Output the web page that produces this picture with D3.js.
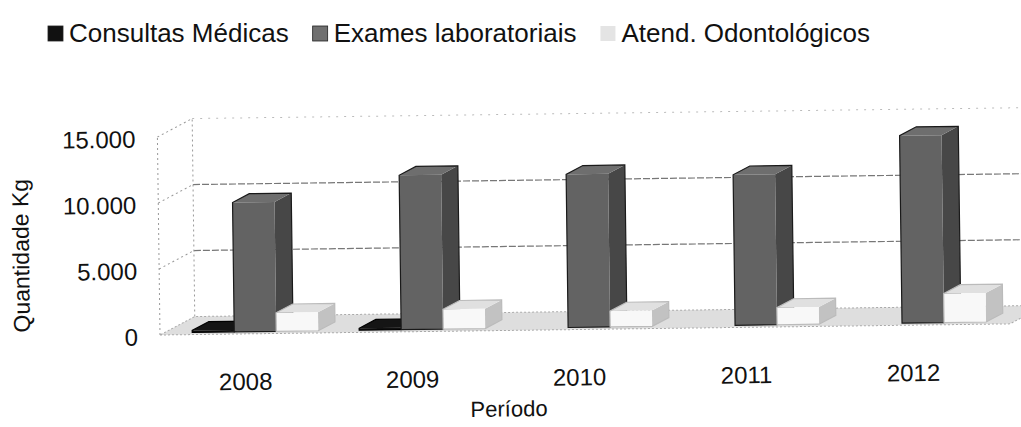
<!DOCTYPE html>
<html>
<head>
<meta charset="utf-8">
<script src="https://cdn.jsdelivr.net/npm/d3@7"></script>
<style>
    body { margin: 0; background: #fff; }
    text { font-family: "Liberation Sans", Arial, sans-serif; fill: #111; }
</style>
</head>
<body>
<div id="chart"></div>
<script>
var years = ["2008", "2009", "2010", "2011", "2012"];
var seriesNames = ["Consultas Médicas", "Exames laboratoriais", "Atend. Odontológicos"];
var consultas = [150, 150, 0, 0, 0];
var exames = [9800, 11700, 11600, 11400, 14200];
var odonto = [1400, 1500, 1200, 1300, 2200];
var yTicks = [0, 5000, 10000, 15000];
var yTickLabels = ["0", "5.000", "10.000", "15.000"];

var seriesValues = [consultas, exames, odonto];

var width = 1021;
var height = 427;

// face colours per series: front, top, side, outline
var faceColors = [
    { front: "#111", top: "#151515", side: "#0a0a0a", stroke: "#000" },
    { front: "#636363", top: "#6e6e6e", side: "#474747", stroke: "#1a1a1a" },
    { front: "#f8f8f8", top: "#e0e0e0", side: "#c2c2c2", stroke: "#bbb" }
];
var legendColors = ["#111", "#707070", "#e4e4e4"];

var svg = d3.select("#chart").append("svg")
    .attr("width", width)
    .attr("height", height);

svg.append("rect")
    .attr("width", width)
    .attr("height", height)
    .attr("fill", "#fff");

// 3D depth of the plot box
var DX = 35;
var DY = -18;
var xLeft = 160;
var xRight = 1010;
var yBase = 335;

var y = d3.scaleLinear()
    .domain([0, 15000])
    .range([yBase, yBase - 198]);

var x = d3.scaleBand()
    .domain(years)
    .range([xLeft, xRight])
    .paddingInner(0.245)
    .paddingOuter(0.168);

var xSeries = d3.scaleBand()
    .domain(seriesNames)
    .range([0, x.bandwidth()]);

function proj(px, value, z) {
    return [px + z * DX, y(value) + z * DY];
}

function poly(points) {
    return points.map(p => p.join(",")).join(" ");
}

// the scan is a little tilted
var chart = svg.append("g")
    .attr("transform", `rotate(-0.75, ${xLeft}, ${yBase})`);

// floor
chart.append("polygon")
    .attr("points", poly([proj(xLeft, 0, 0), proj(xRight, 0, 0), proj(xRight, 0, 1), proj(xLeft, 0, 1)]))
    .attr("fill", "#dedede")
    .attr("stroke", "#aaa")
    .attr("stroke-width", 1)
    .attr("stroke-dasharray", "2,2");

// back wall gridlines and left wall lines
yTicks.forEach(function(t) {
    if (t === 0) return;
    var top = t === 15000;
    var a = proj(xLeft, t, 1);
    var b = proj(xRight + 20, t, 1);
    chart.append("line")
        .attr("x1", a[0]).attr("y1", a[1])
        .attr("x2", b[0]).attr("y2", b[1])
        .attr("stroke", top ? "#bbb" : "#777")
        .attr("stroke-width", top ? 1 : 1.2)
        .attr("stroke-dasharray", top ? "2,6" : "7,2");
    var c = proj(xLeft, t, 0);
    chart.append("line")
        .attr("x1", c[0]).attr("y1", c[1])
        .attr("x2", a[0]).attr("y2", a[1])
        .attr("stroke", "#999")
        .attr("stroke-dasharray", "2,3");
});

[0, 1].forEach(function(z) {
    var a = proj(xLeft, 0, z);
    var b = proj(xLeft, 15000, z);
    chart.append("line")
        .attr("x1", a[0]).attr("y1", a[1])
        .attr("x2", b[0]).attr("y2", b[1])
        .attr("stroke", "#999")
        .attr("stroke-dasharray", "2,3");
});

// bars
var z0 = 0.12;
var z1 = 0.6;
years.forEach(function(year, i) {
    seriesNames.forEach(function(name, s) {
        var v = seriesValues[s][i];
        if (!v) return;
        var x0 = x(year) + xSeries(name);
        var x1 = x0 + xSeries.bandwidth();
        var col = faceColors[s];
        var bar = chart.append("g");
        bar.append("polygon")
            .attr("points", poly([proj(x1, 0, z0), proj(x1, 0, z1), proj(x1, v, z1), proj(x1, v, z0)]))
            .attr("fill", col.side);
        bar.append("polygon")
            .attr("points", poly([proj(x0, v, z0), proj(x1, v, z0), proj(x1, v, z1), proj(x0, v, z1)]))
            .attr("fill", col.top);
        bar.append("polygon")
            .attr("points", poly([proj(x0, 0, z0), proj(x1, 0, z0), proj(x1, v, z0), proj(x0, v, z0)]))
            .attr("fill", col.front);
        bar.append("polygon")
            .attr("points", poly([proj(x0, 0, z0), proj(x0, v, z0), proj(x0, v, z1), proj(x1, v, z1), proj(x1, 0, z1), proj(x1, 0, z0)]))
            .attr("fill", "none")
            .attr("stroke", col.stroke)
            .attr("stroke-width", 1.2);
    });
});

// y tick labels
chart.selectAll(".ytick")
    .data(yTicks)
    .enter().append("text")
    .attr("class", "ytick")
    .attr("x", 138)
    .attr("y", (d, i) => y(d) + 4)
    .attr("dominant-baseline", "middle")
    .attr("text-anchor", "end")
    .attr("font-size", 24)
    .text((d, i) => yTickLabels[i]);

// category labels
chart.selectAll(".xtick")
    .data(years)
    .enter().append("text")
    .attr("class", "xtick")
    .attr("x", d => x(d) + x.bandwidth() / 2 - 6)
    .attr("y", yBase + 56)
    .attr("text-anchor", "middle")
    .attr("font-size", 24)
    .text(d => d);

chart.append("text")
    .attr("transform", `translate(30, 254) rotate(-90)`)
    .attr("text-anchor", "middle")
    .attr("font-size", 23)
    .text("Quantidade Kg");

chart.append("text")
    .attr("x", 508)
    .attr("y", 421)
    .attr("text-anchor", "middle")
    .attr("font-size", 22)
    .text("Período");

// legend
var legend = svg.append("g");
var lx = 48;
seriesNames.forEach(function(name, s) {
    legend.append("rect")
        .attr("x", lx)
        .attr("y", 26)
        .attr("width", 15)
        .attr("height", 15)
        .attr("fill", legendColors[s])
        .attr("stroke", s === 2 ? "none" : "#222")
        .attr("stroke-width", 0.8);
    var label = legend.append("text")
        .attr("x", lx + 21)
        .attr("y", 42)
        .attr("font-size", 26)
        .text(name);
    lx += 21 + label.node().getComputedTextLength() + 24;
});
</script>
</body>
</html>
